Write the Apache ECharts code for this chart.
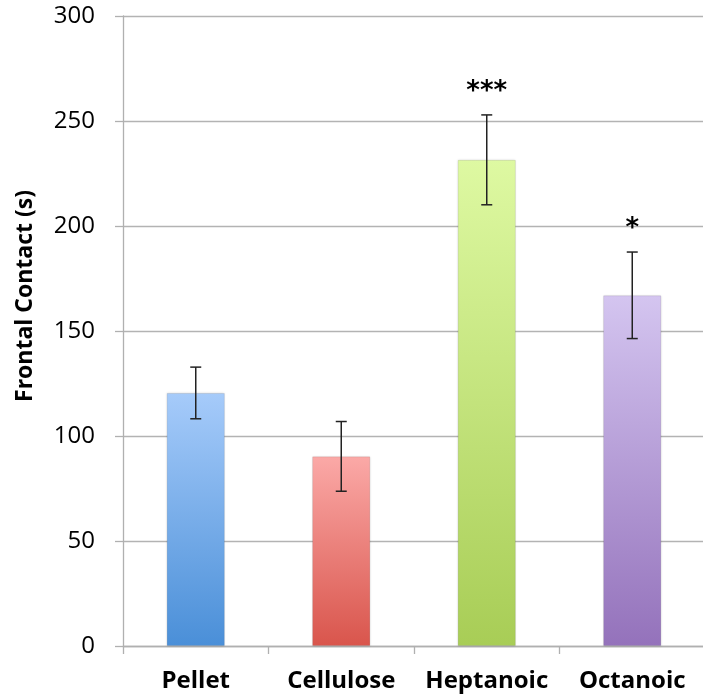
<!DOCTYPE html>
<html><head><meta charset="utf-8">
<script src="https://cdn.jsdelivr.net/npm/echarts@6/dist/echarts.min.js"></script>
<style>html,body{margin:0;padding:0;background:#fff}#c{width:703px;height:698px}</style>
</head><body><div id="c"></div>
<script>
const categories = ['Pellet', 'Cellulose', 'Heptanoic', 'Octanoic'];
const means = [120.5, 90.3, 231.5, 167];
const errors = [12.3, 16.6, 21.4, 20.6];
const sigLabels = ['', '', '***', '*'];
const yTicks = [0, 50, 100, 150, 200, 250, 300];
const topColors = ['#a6cbfa', '#fba9a7', '#def9a2', '#d4c5f0'];
const bottomColors = ['#4a8fd8', '#d9554c', '#a8cd56', '#9472bb'];

const chart = echarts.init(document.getElementById('c'));
chart.setOption({
  animation: false,
  grid: { left: 123, right: -2, top: 16, bottom: 52, containLabel: false, outerBoundsMode: 'none' },
  xAxis: {
    type: 'category', data: categories,
    axisLine: { lineStyle: { color: '#b0b0b0', width: 1.3 } },
    axisTick: { show: true, length: 8, inside: false, alignWithLabel: false, lineStyle: { color: '#b0b0b0', width: 1.3 } },
    axisLabel: { fontFamily: 'Open Sans', fontWeight: 'bold', fontSize: 24, color: '#000', margin: 23, interval: 0 }
  },
  yAxis: {
    type: 'value', min: 0, max: 300, interval: 50,
    name: 'Frontal Contact (s)', nameLocation: 'middle', nameGap: 86, nameRotate: 90,
    nameTextStyle: { fontFamily: 'Open Sans', fontWeight: 'bold', fontSize: 23, color: '#000', padding: [0, 0, 0, 70] },
    axisLine: { show: true, lineStyle: { color: '#b0b0b0', width: 1.3 } },
    axisTick: { show: true, length: 8, lineStyle: { color: '#b0b0b0', width: 1.3 } },
    splitLine: { show: true, lineStyle: { color: '#b3b3b3', width: 1.3 } },
    axisLabel: { fontFamily: 'Open Sans', fontSize: 24, color: '#000', margin: 28,
      formatter: v => yTicks.includes(v) ? String(v) : '' }
  },
  series: [
    {
      type: 'bar', barWidth: '40%',
      data: means.map((v, i) => ({
        value: v,
        itemStyle: {
          color: new echarts.graphic.LinearGradient(0, 0, 0, 1, [
            { offset: 0, color: topColors[i] }, { offset: 1, color: bottomColors[i] }
          ]),
          borderColor: 'rgba(0,0,0,0.08)', borderWidth: 1,
          shadowColor: 'rgba(0,0,0,0.15)', shadowBlur: 2
        }
      }))
    },
    {
      type: 'custom',
      data: means.map((v, i) => [i, v - errors[i], v + errors[i]]),
      renderItem: function (params, api) {
        const i = api.value(0);
        const lo = api.coord([i, api.value(1)]);
        const hi = api.coord([i, api.value(2)]);
        const hw = 5.5;
        const st = { stroke: '#222', lineWidth: 1.5 };
        const children = [
          { type: 'line', shape: { x1: hi[0], y1: hi[1], x2: lo[0], y2: lo[1] }, style: st },
          { type: 'line', shape: { x1: hi[0] - hw, y1: hi[1], x2: hi[0] + hw, y2: hi[1] }, style: st },
          { type: 'line', shape: { x1: lo[0] - hw, y1: lo[1], x2: lo[0] + hw, y2: lo[1] }, style: st }
        ];
        const lab = sigLabels[params.dataIndex];
        if (lab) {
          children.push({ type: 'text', style: { text: lab, x: hi[0], y: hi[1] - 10,
            align: 'center', verticalAlign: 'bottom', fontFamily: 'DejaVu Sans', fontWeight: 'bold', fontSize: 26, fill: '#000' } });
        }
        return { type: 'group', children };
      },
      z: 10
    }
  ]
});
</script></body></html>
